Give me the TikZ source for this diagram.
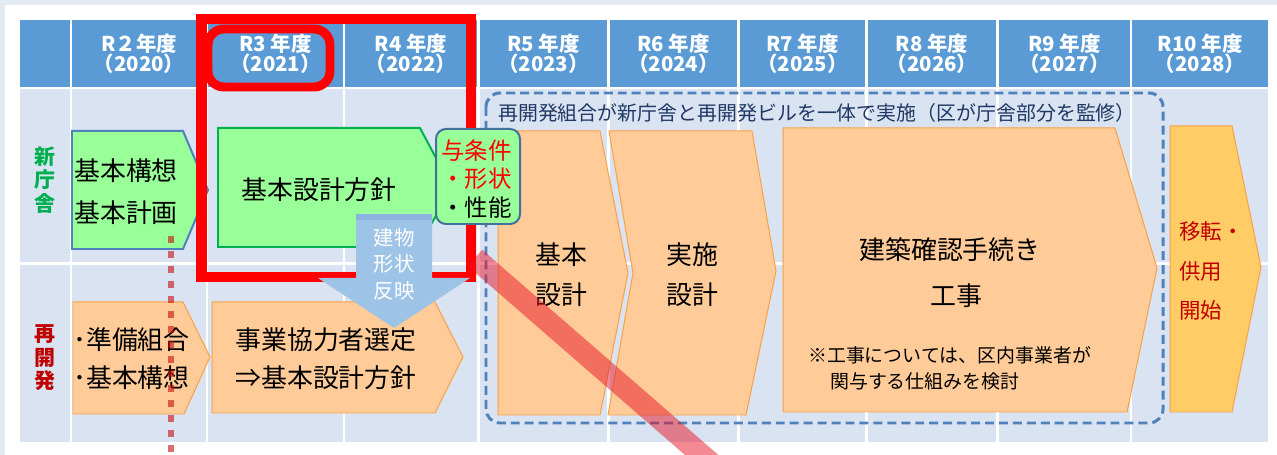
\documentclass[tikz,border=0pt]{standalone}
\usepackage{fontspec}
\setmainfont{Noto Sans CJK JP}
\definecolor{hdr}{HTML}{5B9BD5}
\definecolor{cell}{HTML}{DAE3F1}
\definecolor{outerbg}{HTML}{E4EAF3}
\definecolor{gfill}{HTML}{99FF99}
\definecolor{gline}{HTML}{00B050}
\definecolor{bline}{HTML}{4F81BD}
\definecolor{kline}{HTML}{41719C}
\definecolor{ofill}{HTML}{FFCC99}
\definecolor{oline}{HTML}{F7A047}
\definecolor{yfill}{HTML}{FFCC66}
\definecolor{navy}{HTML}{1F3864}
\definecolor{dred}{HTML}{C00000}
\definecolor{arrowblue}{HTML}{9DC3E6}
\definecolor{arrowtop}{HTML}{8DB3E2}
\definecolor{stripecol}{RGB}{230,20,40}
\definecolor{dotcol}{RGB}{200,20,20}
\begin{document}
\begin{tikzpicture}[x=1bp,y=-1bp,
  hdrtext/.style={text=white,inner sep=0pt,align=center,font=\fontsize{20.5}{20.5}\selectfont\bfseries},
  rowlabel/.style={inner sep=0pt,align=center,font=\fontsize{21}{23.5}\selectfont\bfseries},
  boxtext/.style={inner sep=0pt,text=black,font=\fontsize{26}{40}\selectfont},
  gbox/.style={fill=gfill,draw=gline,line width=2pt},
  obox/.style={fill=ofill,draw=oline,line width=1pt,line join=round},
  ybox/.style={fill=yfill,draw=oline,line width=1pt,line join=round},
  redframe/.style={draw=red,line width=11pt},
  dashframe/.style={draw=bline,line width=3pt,dash pattern=on 9pt off 5pt,rounded corners=14pt},
  notetext/.style={inner sep=0pt,anchor=west,text=black,font=\fontsize{19}{24}\selectfont}
]
\useasboundingbox (0,0) rectangle (1277,455);
% background
\fill[outerbg] (0,0) rectangle (1277,455);
\fill[white] (5,5) rectangle (1277,455);
% table cells
\foreach \a/\b in {20/70,72/206,208/343,345/477,480/607,610/737,740/865,868/996,999/1130,1132/1268}{
  \fill[hdr] (\a,20) rectangle (\b,87);
  \fill[cell] (\a,89) rectangle (\b,262);
  \fill[cell] (\a,265) rectangle (\b,442);
}
% header texts
\foreach \a/\b/\r/\y [count=\i] in {72/206/R２年度/2020,208/343/R3 年度/2021,345/477/R4 年度/2022,480/607/R5 年度/2023,610/737/R6 年度/2024,740/865/R7 年度/2025,868/996/R8 年度/2026,999/1130/R9 年度/2027,1132/1268/R10 年度/2028}{
  \node[hdrtext] (h\i) at ({(\a+\b)/2},53.5) {\r\\（\y）};
}
% row labels
\node[rowlabel,text=gline] (lab1) at (45,180) {新\\庁\\舎};
\node[rowlabel,text=dred] (lab2) at (45,358) {再\\開\\発};
% dashed frame
\draw[dashframe] (486,93) rectangle (1163,423);
\node[inner sep=0pt,text=navy,font=\fontsize{20}{22}\selectfont] (dtext) at (817,113) {再開発組合が新庁舎と再開発ビルを一体で実施（区が庁舎部分を監修）};
% row 1 boxes
\draw[gbox,draw=bline] (72,131) -- (183,131) -- (208,190) -- (183,249) -- (72,249) -- cycle;
\node[boxtext,align=left,anchor=west,font=\fontsize{26}{42}\selectfont] (kk) at (74,192) {基本構想\\基本計画};
\draw[gbox] (218,128) -- (420,128) -- (452,188) -- (418,247) -- (218,247) -- cycle;
\node[boxtext] (ks) at (319,190) {基本設計方針};
% row 2 boxes
\draw[obox] (73,302) -- (183,302) -- (210,357) -- (184,414) -- (73,414) -- cycle;
\node[boxtext,align=left,anchor=west,font=\fontsize{26}{38}\selectfont] (jb) at (73,359) {･準備組合\\･基本構想};
\draw[obox] (212,302) -- (435,302) -- (463,357) -- (435,413) -- (212,413) -- cycle;
\node[boxtext,align=center,font=\fontsize{26}{38}\selectfont] (jg) at (326,359) {事業協力者選定\\⇒基本設計方針};
% boxes inside dashed frame
\draw[obox] (498,131) -- (600,131) -- (628,273) -- (600,415) -- (498,415) -- cycle;
\node[boxtext,align=center] (kihon) at (561,275) {基本\\設計};
\draw[obox] (609,131) -- (752,131) -- (776,271) -- (746,415) -- (608,415) -- (633,273) -- cycle;
\node[boxtext,align=center] (jisshi) at (692,275) {実施\\設計};
\draw[obox] (783,128) -- (1115,128) -- (1157,268) -- (1127,412) -- (783,412) -- cycle;
\node[boxtext] (kenchiku) at (950,250) {建築確認手続き};
\node[boxtext] (kouji) at (956,296) {工事};
\node[notetext] (note1) at (808,355) {※工事については、区内事業者が};
\node[notetext] (note2) at (830,381) {関与する仕組みを検討};
\draw[ybox] (1170,126) -- (1232,126) -- (1261,267) -- (1232,412) -- (1170,412) -- cycle;
\node[inner sep=0pt,align=left,anchor=west,text=dred,font=\fontsize{21.5}{40}\selectfont] (iten) at (1179,271) {移転・\\供用\\開始};
% red dotted line
\coordinate (dtop) at (171,236);
\coordinate (dbot) at (171,460);
\draw[dotcol,opacity=0.62,line width=7pt,dash pattern=on 7pt off 8pt] (dtop) -- (dbot);
% red frames
\draw[redframe] (201.5,19) rectangle (471,277);
\draw[draw=red,line width=9pt,rounded corners=16pt] (208,29) rectangle (330,87);
% blue arrow
\fill[arrowblue] (356,216) -- (432,216) -- (432,278) -- (470,278) -- (394,328) -- (318,278) -- (356,278) -- cycle;
\fill[arrowtop] (356,214) rectangle (432,220);
\node[inner sep=0pt,align=center,text=white,font=\fontsize{20.5}{26.5}\selectfont] (tatemono) at (394,264) {建物\\形状\\反映};
% 与条件 box
\draw[fill=gfill,draw=kline,line width=2pt,rounded corners=10pt] (436,129) rectangle (520,224);
\node[inner sep=0pt,align=left,anchor=west,text=black,font=\fontsize{23.5}{29}\selectfont] (yojo) at (441,179) {\textcolor{red}{与条件}\\\textcolor{red}{・形状}\\・性能};
% red diagonal stripe
\begin{scope}
\clip (0,0) rectangle (1277,455);
\coordinate (s1) at (475,258);
\coordinate (s2) at (750,497);
\draw[stripecol,opacity=0.5,line width=22pt] (s1) -- (s2);
\end{scope}
\end{tikzpicture}
\end{document}
